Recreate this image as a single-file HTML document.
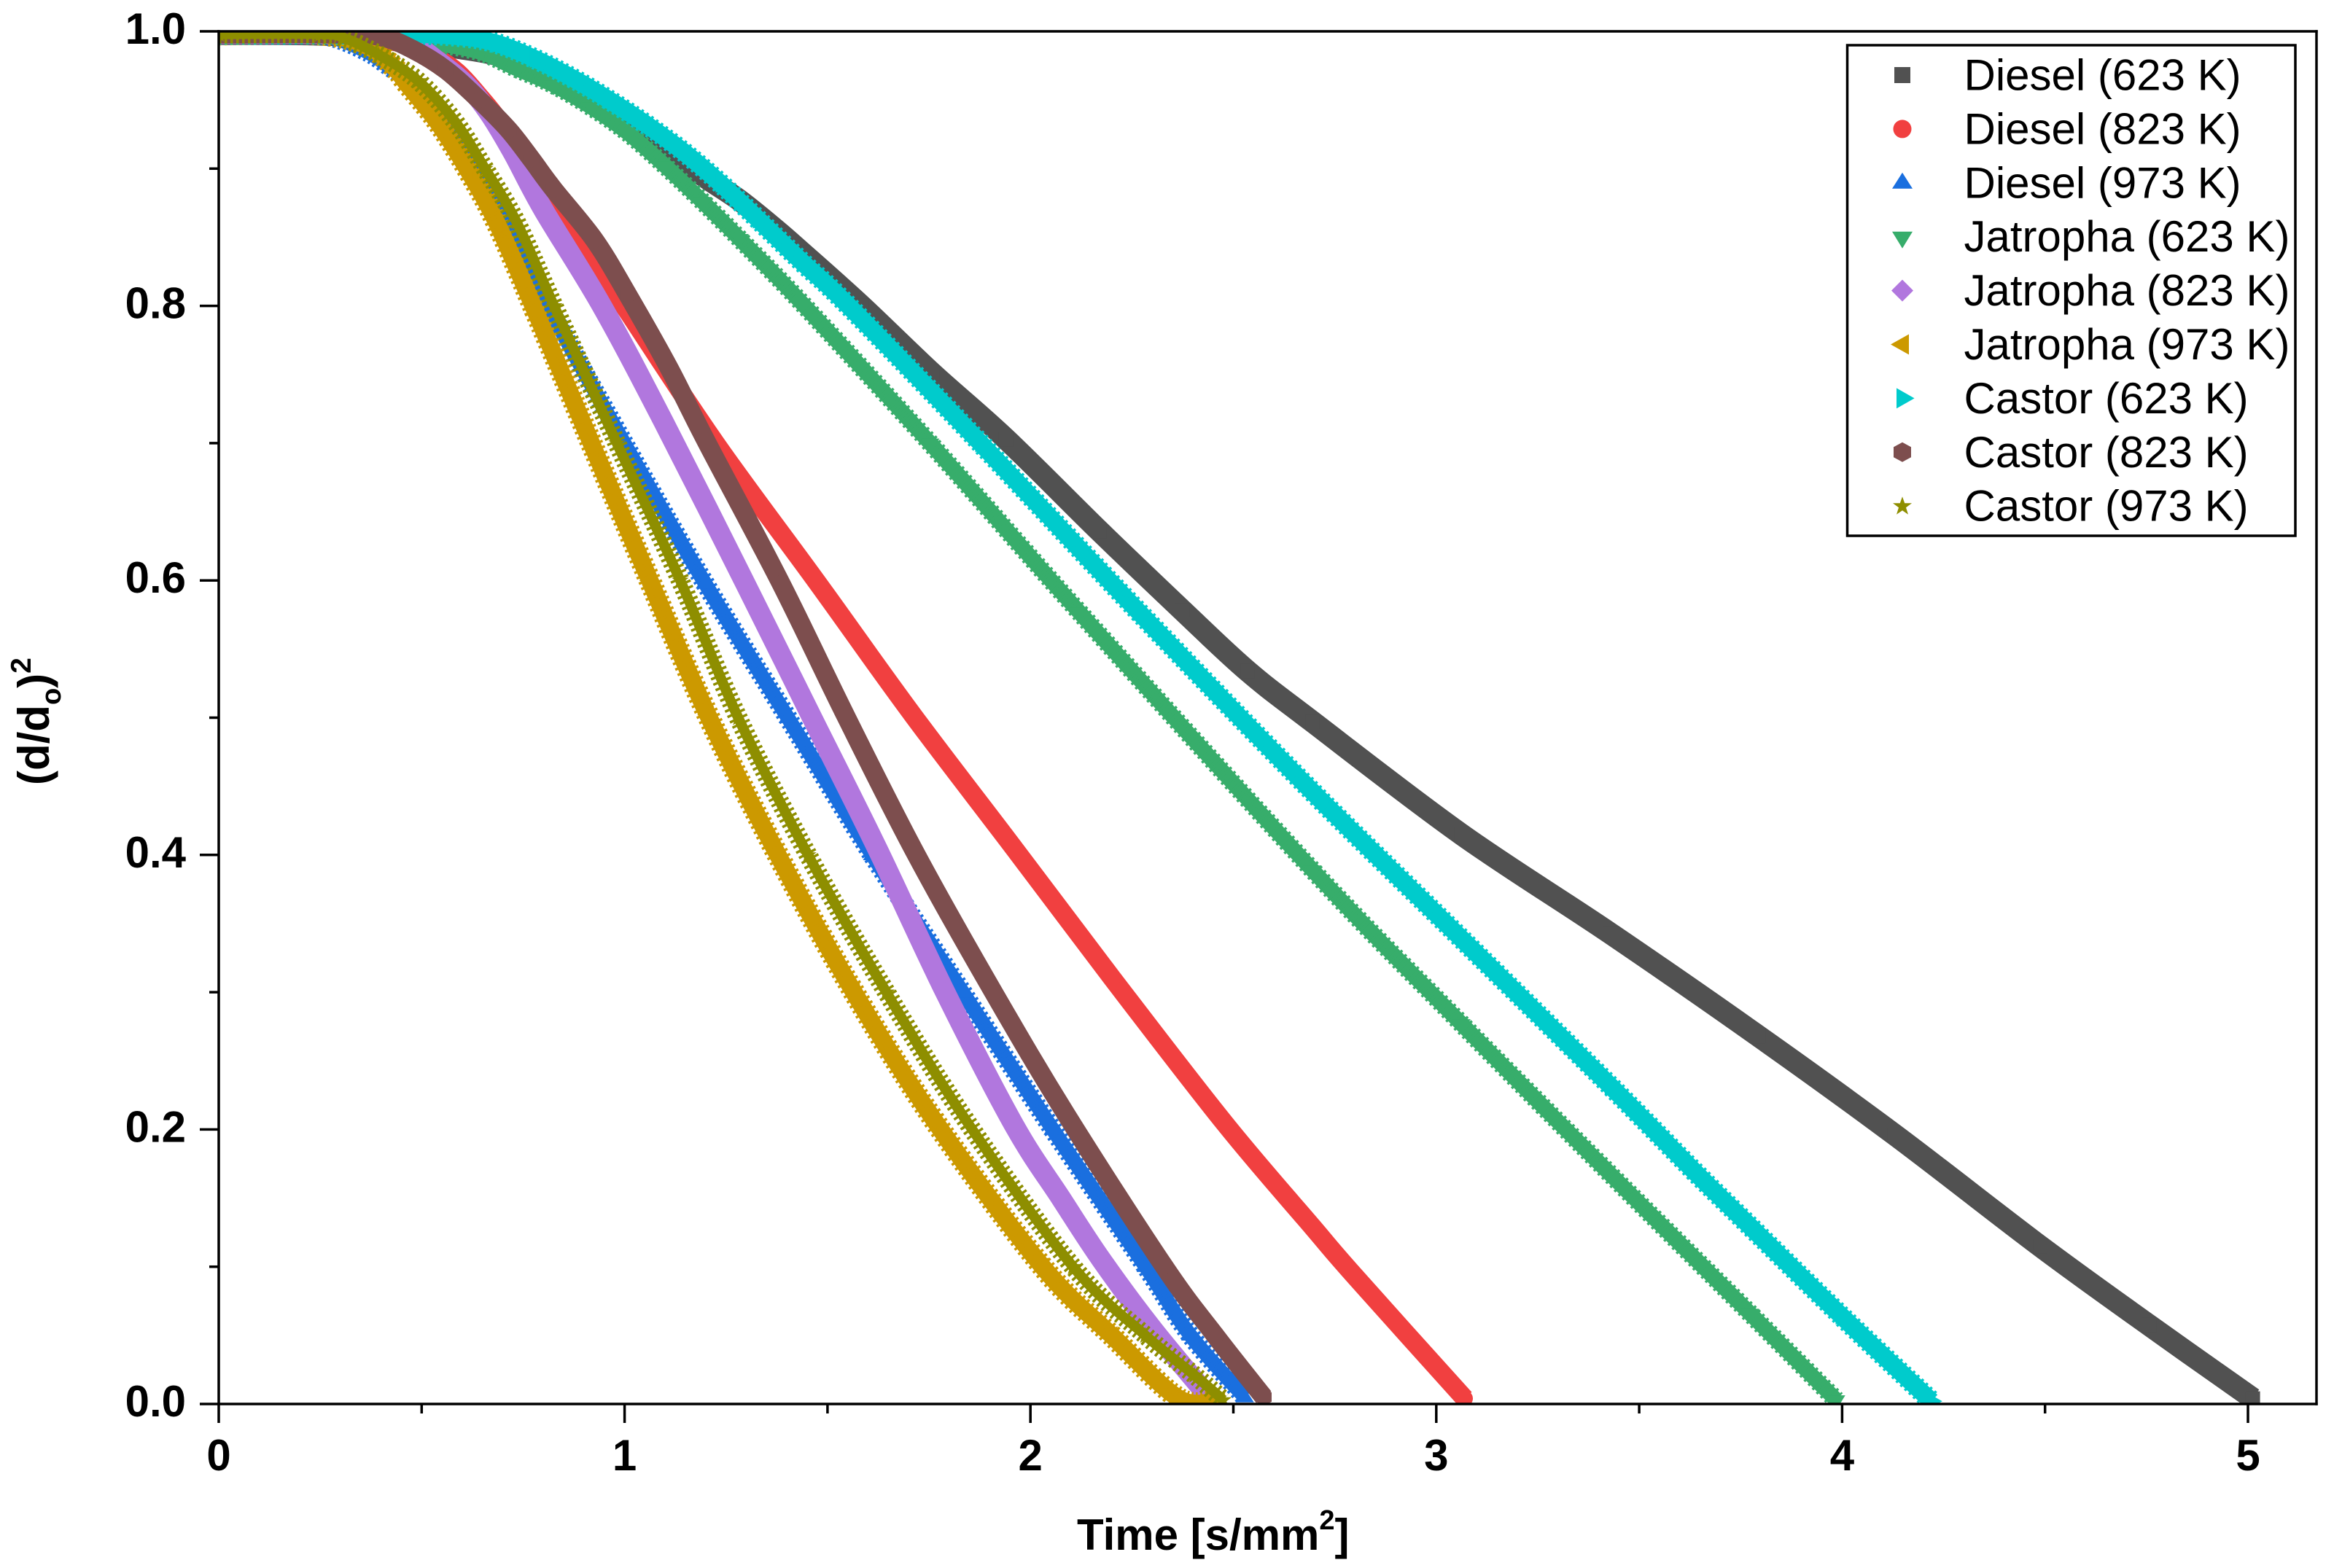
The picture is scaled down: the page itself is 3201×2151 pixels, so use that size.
<!DOCTYPE html>
<html lang="en">
<head>
<meta charset="utf-8">
<title>Droplet evaporation chart</title>
<style>
html,body{margin:0;padding:0;background:#fff;}
svg{display:block;}
text{font-family:"Liberation Sans",Arial,sans-serif;fill:#000;}
</style>
</head>
<body>
<svg id="chart" xmlns="http://www.w3.org/2000/svg" width="3201" height="2151" viewBox="0 0 3201 2151">
  <rect x="0" y="0" width="3201" height="2151" fill="#fff"/>
  <defs><clipPath id="plot-clip"><rect x="300" y="43" width="2877" height="1883"/></clipPath></defs>
  <g id="series-layer" clip-path="url(#plot-clip)"></g>
  <g id="axes-layer"></g>
  <text x="1477" y="2126" font-size="60" font-weight="bold">Time [s/mm<tspan font-size="38" dy="-28">2</tspan><tspan dy="28">]</tspan></text>
  <text transform="translate(67,1077) rotate(-90)" font-size="60" font-weight="bold">(d/d<tspan font-size="38" dy="16">o</tspan><tspan dy="-16">)</tspan><tspan font-size="39" dy="-25">2</tspan></text>
  <g id="legend">
    <rect x="2533.5" y="62" width="614.5" height="673" fill="#fff" stroke="#000" stroke-width="3.5"/>
  </g>
</svg>
<script>
// Values: time [s/mm2] and (d/do)^2 for each series
var seriesNames = ["Diesel (623 K)","Diesel (823 K)","Diesel (973 K)","Jatropha (623 K)","Jatropha (823 K)","Jatropha (973 K)","Castor (623 K)","Castor (823 K)","Castor (973 K)"];

var diesel623T = [0,0.30,0.587,0.733,0.917,1.109,1.192,1.283,1.375,1.437,1.584,1.758,1.94,2.17,2.375,2.535,2.695,3.062,3.428,3.794,4.13,4.488,4.756,5.012];
var diesel623R = [0.998,0.997,0.988,0.978,0.951,0.914,0.895,0.877,0.855,0.839,0.80,0.751,0.703,0.636,0.578,0.534,0.497,0.415,0.343,0.268,0.196,0.115,0.0575,0.004];

var diesel823T = [0,0.35,0.54,0.65,0.775,0.921,0.999,1.224,1.476,1.71,1.962,2.202,2.48,2.695,2.798,3.07];
var diesel823R = [0.998,0.997,0.98,0.95,0.90,0.834,0.80,0.70,0.598,0.502,0.404,0.31,0.204,0.129,0.0935,0.004];

var diesel973T = [0,0.2,0.275,0.353,0.412,0.52,0.642,0.811,0.999,1.198,1.402,1.61,1.833,2.055,2.284,2.394,2.528];
var diesel973R = [0.998,0.998,0.996,0.987,0.976,0.95,0.90,0.80,0.70,0.598,0.50,0.40,0.30,0.20,0.10,0.05,0.005];

var jatropha623T = [0,0.30,0.513,0.642,0.733,0.825,0.917,1.008,1.10,1.192,1.283,1.437,1.753,2.12,2.695,3.062,3.41,3.773,3.985];
var jatropha623R = [0.998,0.998,0.992,0.985,0.973,0.961,0.945,0.926,0.902,0.876,0.849,0.802,0.70,0.577,0.389,0.277,0.173,0.066,0.003];

var jatropha823T = [0,0.30,0.40,0.467,0.541,0.61,0.665,0.724,0.80,0.944,1.097,1.297,1.462,1.622,1.79,1.96,2.075,2.175,2.30,2.44];
var jatropha823R = [0.998,0.998,0.997,0.993,0.978,0.961,0.941,0.912,0.87,0.80,0.715,0.598,0.50,0.405,0.30,0.203,0.15,0.105,0.055,0.005];

var jatropha973T = [0,0.25,0.367,0.431,0.466,0.539,0.612,0.686,0.779,0.918,1.062,1.205,1.374,1.565,1.767,2.03,2.20,2.366,2.465];
var jatropha973R = [0.998,0.998,0.989,0.974,0.961,0.934,0.90,0.86,0.797,0.70,0.60,0.502,0.402,0.30,0.205,0.10,0.05,0.004,0.003];

var castor623T = [0,0.45,0.60,0.687,0.779,0.871,0.962,1.054,1.146,1.237,1.329,1.437,1.552,1.877,2.267,2.695,3.062,3.428,3.634,3.773,3.997,4.22];
var castor623R = [0.998,0.998,0.996,0.991,0.98,0.966,0.95,0.932,0.912,0.889,0.863,0.832,0.80,0.70,0.577,0.446,0.339,0.232,0.17,0.1295,0.0645,0.002];

var castor823T = [0,0.30,0.40,0.477,0.559,0.642,0.715,0.77,0.825,0.926,1.008,1.109,1.20,1.385,1.547,1.719,1.909,2.09,2.33,2.455,2.575];
var castor823R = [0.998,0.998,0.996,0.987,0.972,0.95,0.928,0.907,0.885,0.848,0.808,0.755,0.702,0.598,0.50,0.40,0.30,0.21,0.10,0.05,0.005];

var castor973T = [0,0.25,0.31,0.394,0.491,0.583,0.656,0.734,0.826,0.981,1.137,1.28,1.452,1.645,1.845,2.105,2.283,2.404,2.475];
var castor973R = [0.998,0.998,0.995,0.983,0.964,0.934,0.90,0.861,0.80,0.70,0.60,0.50,0.40,0.30,0.205,0.10,0.05,0.021,0.003];

var xMajorTicks = [0,1,2,3,4,5];
var xMinorTicks = [0.5,1.5,2.5,3.5,4.5];
var yMajorTicks = [0,0.2,0.4,0.6,0.8,1.0];
var yMinorTicks = [0.1,0.3,0.5,0.7,0.9];
var xTickLabels = ["0","1","2","3","4","5"];
var yTickLabels = ["0.0","0.2","0.4","0.6","0.8","1.0"];

var seriesTimes = [diesel623T,diesel823T,diesel973T,jatropha623T,jatropha823T,jatropha973T,castor623T,castor823T,castor973T];
var seriesRatios = [diesel623R,diesel823R,diesel973R,jatropha623R,jatropha823R,jatropha973R,castor623R,castor823R,castor973R];

var colors = ["#515151","#f14040","#1a6fdf","#37ad6b","#b177de","#cc9900","#00cbcc","#7d4e4e","#8e8e00"];
var kinds = ["square","circle","up","down","diamond","left","right","hexagon","star"];
var coreWidths = [30,26,20,21,28,24,24,26,14];
var toothWidths = [30,26,27,26,28,31,29,26,26];
var NS = "http://www.w3.org/2000/svg";

function xScale(v){ return 300 + v * 556.6; }
function yScale(v){ return 1926 - v * 1883; }

function smoothPath(times, ratios){
  var px = times.map(xScale);
  var py = ratios.map(yScale);
  var d = "M" + px[0].toFixed(1) + " " + py[0].toFixed(1);
  var n = px.length;
  for (var i = 0; i < n - 1; i++) {
    var a = Math.max(i - 1, 0);
    var b = Math.min(i + 2, n - 1);
    var c1x = px[i] + (px[i + 1] - px[a]) / 6;
    var c1y = py[i] + (py[i + 1] - py[a]) / 6;
    var c2x = px[i + 1] - (px[b] - px[i]) / 6;
    var c2y = py[i + 1] - (py[b] - py[i]) / 6;
    d += "C" + c1x.toFixed(1) + " " + c1y.toFixed(1) + " " + c2x.toFixed(1) + " " + c2y.toFixed(1) + " " + px[i + 1].toFixed(1) + " " + py[i + 1].toFixed(1);
  }
  return d;
}

function markerPath(kind, cx, cy, k){
  function P(list){
    var s = "";
    for (var i = 0; i < list.length; i++) {
      s += (i ? "L" : "M") + (cx + list[i][0] * k).toFixed(1) + " " + (cy + list[i][1] * k).toFixed(1);
    }
    return s + "Z";
  }
  if (kind === "square") return P([[-11,-11],[11,-11],[11,11],[-11,11]]);
  if (kind === "circle") {
    var r = 12.5 * k;
    return "M" + (cx - r) + " " + cy + "A" + r + " " + r + " 0 1 0 " + (cx + r) + " " + cy + "A" + r + " " + r + " 0 1 0 " + (cx - r) + " " + cy + "Z";
  }
  if (kind === "up") return P([[0,-14],[14,8],[-14,8]]);
  if (kind === "down") return P([[-14,-7],[14,-7],[0,16]]);
  if (kind === "diamond") return P([[0,-15],[15,0],[0,15],[-15,0]]);
  if (kind === "left") return P([[-16,0],[9,-14],[9,14]]);
  if (kind === "right") return P([[-8,-14],[16.6,0],[-8,14]]);
  if (kind === "hexagon") return P([[0,-13.5],[12,-7],[12,7],[0,13.5],[-12,7],[-12,-7]]);
  return P([[0,-13],[3.2,-4],[13,-4],[5,2],[8,11.5],[0,6],[-8,11.5],[-5,2],[-13,-4],[-3.2,-4]]);
}

var seriesLayer = document.getElementById("series-layer");
var axesLayer = document.getElementById("axes-layer");
var legend = document.getElementById("legend");

seriesNames.forEach(function(name, s){
  var times = seriesTimes[s];
  var ratios = seriesRatios[s];
  var g = document.createElementNS(NS, "g");
  
  
  var d = smoothPath(times, ratios);
  var line = document.createElementNS(NS, "path");
  
  
  line.setAttribute("d", d);
  line.setAttribute("fill", "none");
  line.setAttribute("stroke", colors[s]);
  line.setAttribute("stroke-width", coreWidths[s]);
  line.setAttribute("stroke-linejoin", "round");
  g.appendChild(line);
  if (toothWidths[s] > coreWidths[s]) {
    var teeth = document.createElementNS(NS, "path");
    
    
    teeth.setAttribute("d", d);
    teeth.setAttribute("fill", "none");
    teeth.setAttribute("stroke", colors[s]);
    teeth.setAttribute("stroke-width", toothWidths[s]);
    teeth.setAttribute("stroke-dasharray", "3.5 4.5");
    g.appendChild(teeth);
  }
  for (var j = 0; j < times.length; j++) {
    var pt = document.createElementNS(NS, "path");
    
    
    pt.setAttribute("d", markerPath(kinds[s], xScale(times[j]), yScale(ratios[j]), 0.9));
    pt.setAttribute("fill", colors[s]);
    g.appendChild(pt);
  }
  seriesLayer.appendChild(g);

  var rowY = 103 + 73.9 * s;
  var lm = document.createElementNS(NS, "path");
  
  
  lm.setAttribute("d", markerPath(kinds[s], 2609, rowY, 1));
  lm.setAttribute("fill", colors[s]);
  legend.appendChild(lm);
  var lt = document.createElementNS(NS, "text");
  
  
  lt.setAttribute("x", 2693.5);
  lt.setAttribute("y", 123.5 + 73.9 * s);
  lt.setAttribute("font-size", "60");
  lt.textContent = name;
  legend.appendChild(lt);
});

function axisLine(x1, y1, x2, y2, name){
  var l = document.createElementNS(NS, "line");
  
  
  l.setAttribute("x1", x1);
  l.setAttribute("y1", y1);
  l.setAttribute("x2", x2);
  l.setAttribute("y2", y2);
  l.setAttribute("stroke", "#000");
  l.setAttribute("stroke-width", "3.5");
  axesLayer.appendChild(l);
}

axisLine(300, 41.3, 300, 1927.7, "y-axis-line");
axisLine(298.3, 1926, 3178.7, 1926, "x-axis-line");
axisLine(298.3, 43, 3178.7, 43, "top-frame-line");
axisLine(3177, 41.3, 3177, 1927.7, "right-frame-line");

xMajorTicks.forEach(function(v, i){
  axisLine(xScale(v), 1926, xScale(v), 1952, "x-major-tick");
  var t = document.createElementNS(NS, "text");
  
  
  t.setAttribute("x", xScale(v));
  t.setAttribute("y", 2017);
  t.setAttribute("font-size", "60");
  t.setAttribute("font-weight", "bold");
  t.setAttribute("text-anchor", "middle");
  t.textContent = xTickLabels[i];
  axesLayer.appendChild(t);
});
xMinorTicks.forEach(function(v){
  axisLine(xScale(v), 1926, xScale(v), 1939, "x-minor-tick");
});
yMajorTicks.forEach(function(v, i){
  axisLine(274, yScale(v), 300, yScale(v), "y-major-tick");
  var t = document.createElementNS(NS, "text");
  
  
  t.setAttribute("x", 255);
  t.setAttribute("y", yScale(v) + 17);
  t.setAttribute("font-size", "60");
  t.setAttribute("font-weight", "bold");
  t.setAttribute("text-anchor", "end");
  t.textContent = yTickLabels[i];
  axesLayer.appendChild(t);
});
yMinorTicks.forEach(function(v){
  axisLine(287, yScale(v), 300, yScale(v), "y-minor-tick");
});
</script>
</body>
</html>
